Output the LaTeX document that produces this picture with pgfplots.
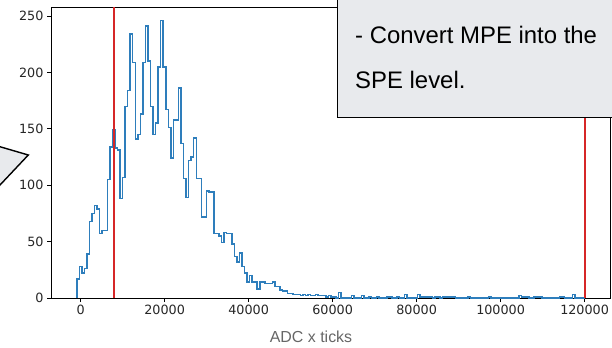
\documentclass[border=0pt]{standalone}
\usepackage{pgfplots}
\usepackage{pgfplotstable}
\pgfplotsset{compat=1.18}
\usepackage{fontspec}
\setmainfont{Liberation Sans}
\newfontfamily\dejavu{DejaVu Sans}
\definecolor{histblue}{HTML}{2E7EBC}
\definecolor{vred}{HTML}{D62728}
\definecolor{boxgray}{HTML}{E8EAED}
\definecolor{labgray}{HTML}{666666}

\pgfplotstableread{
x y
-900 0
-900 17
-295 28
310 22
915 26
1520 39
2125 68
2730 75
3335 82
3940 79
4545 57
5150 60
5755 60
6360 105
6965 134
7570 149
8175 133
8780 131
9385 88
9990 107
10595 170
11200 184
11805 234
12410 209
13015 141
13620 145
14225 163
14830 209
15435 241
16040 210
16645 170
17250 145
17855 155
18460 205
19065 246
19670 205
20275 167
20880 151
21485 124
22090 158
22695 158
23300 186
23905 137
24510 106
25115 89
25720 122
26325 125
26930 142
27535 106
28140 106
28745 72
29350 72
29955 95
30560 94
31165 94
31770 57
32375 57
32980 55
33585 49
34190 58
34795 57
35400 57
36005 48
36610 37
37215 32
37820 40
38425 28
39030 22
39635 14
40240 20
40845 14
41450 14
42055 8
42660 14
43265 14
43870 13
44475 13
45080 13
45685 14
46290 10
46895 10
47500 7
48105 6
48710 6
49315 4
49920 4
50525 3
51130 3
51735 3
52340 2
52945 3
53550 2
54155 3
54760 2
55365 2
55970 3
56575 2
57180 2
57785 2
58390 1
58995 2
59600 1
60205 1
60810 0
61415 5
62020 0
64440 2
65045 0
66860 2
67465 0
68675 1
69280 0
70490 1
71095 0
72910 1
74120 0
75330 1
75935 0
77145 3
77750 0
80170 3
80775 1
83800 0
84405 1
85615 0
86220 1
89245 0
92270 1
92875 0
97110 1
97715 0
104370 2
104975 1
106790 0
108000 1
109815 0
114050 1
115260 0
117075 3
117680 0
120100 0
}\histdata

\begin{document}
\begin{tikzpicture}[x=1bp,y=1bp]
\useasboundingbox (0,0) rectangle (612,347);
\clip (0,0) rectangle (612,347);
\begin{axis}[
  at={(51bp,49bp)}, anchor=south west,
  scale only axis, width=559bp, height=291bp,
  xmin=-7050, xmax=126050, ymin=0, ymax=258,
  xtick={0,20000,40000,60000,80000,100000,120000},
  xticklabels={0,20000,40000,60000,80000,100000,120000},
  ytick={0,50,100,150,200,250},
  yticklabels={0,50,100,150,200,250},
  scaled x ticks=false, scaled y ticks=false,
  tick label style={font=\dejavu\fontsize{12.8}{15}\selectfont, text=black!85},
  tick align=outside, xtick pos=bottom, ytick pos=left,
  major tick length=4bp,
  every tick/.style={black, line width=0.8bp},
  axis line style={black, line width=0.9bp},
  clip=true,
]
\addplot[const plot, histblue, line width=1.5bp] table[x=x,y=y] {\histdata};
\addplot[vred, line width=2.2bp] coordinates {(8000,0) (8000,258)};
\addplot[vred, line width=2.2bp] coordinates {(120000,0) (120000,258)};
\end{axis}
% right callout box
\filldraw[fill=boxgray, draw=black, line width=1bp] (337,230) rectangle (640,370);
\node[anchor=base west, inner sep=0, font=\fontsize{24}{28}\selectfont] at (355,304) {- Convert MPE into the};
\node[anchor=base west, inner sep=0, font=\fontsize{24}{28}\selectfont] at (355,259) {SPE level.};
% left callout pointer
\filldraw[fill=boxgray, draw=black, line width=1.4bp] (-10,203.2) -- (28.3,192) -- (-10,151.4) -- cycle;
% x label
\node[font=\fontsize{16}{19}\selectfont, text=labgray] at (311,10) {ADC x ticks};
\end{tikzpicture}
\end{document}
